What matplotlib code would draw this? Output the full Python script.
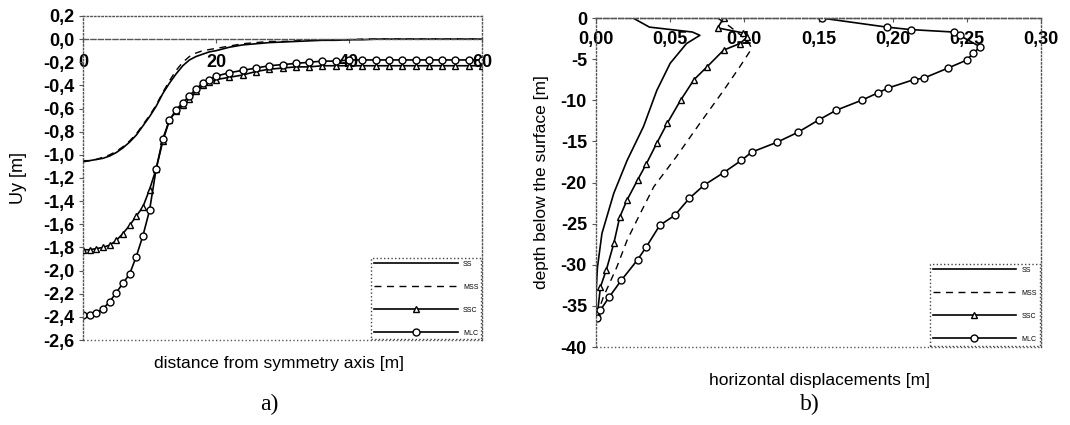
import numpy as np
import matplotlib.pyplot as plt
from matplotlib.ticker import FuncFormatter, MultipleLocator

plt.rcParams['font.family'] = ['Liberation Sans', 'DejaVu Sans']

# ---- panel a) vertical displacement vs distance from axis ----
dist = [0, 1, 2, 3, 4, 5, 6, 7, 8, 9, 10, 11, 12, 13, 14, 15, 16, 17, 18, 19, 20,
        22, 24, 26, 28, 30, 32, 34, 36, 38, 40, 42, 44, 46, 48, 50, 52, 54, 56, 58, 60]
uy_ss = [-1.06, -1.05, -1.04, -1.03, -1.01, -0.98, -0.94, -0.89, -0.83, -0.75, -0.67,
         -0.58, -0.47, -0.38, -0.30, -0.23, -0.18, -0.15, -0.13, -0.11, -0.10,
         -0.07, -0.05, -0.04, -0.03, -0.025, -0.02, -0.015, -0.01, -0.01, -0.005,
         -0.005, 0, 0, 0, 0, 0, 0, 0, 0, 0]
uy_mss = [-1.05, -1.05, -1.04, -1.02, -1.00, -0.97, -0.93, -0.88, -0.82, -0.74, -0.66,
          -0.57, -0.46, -0.36, -0.27, -0.20, -0.15, -0.12, -0.10, -0.09, -0.08,
          -0.06, -0.04, -0.03, -0.02, -0.02, -0.015, -0.01, -0.01, -0.005, -0.005,
          0, 0, 0, 0, 0, 0, 0, 0, 0, 0]
uy_ssc = [-1.82, -1.82, -1.81, -1.80, -1.78, -1.74, -1.68, -1.61, -1.53, -1.45, -1.30,
          -1.12, -0.88, -0.70, -0.62, -0.57, -0.52, -0.45, -0.40, -0.37, -0.35,
          -0.33, -0.31, -0.28, -0.26, -0.25, -0.24, -0.24, -0.23, -0.23, -0.23,
          -0.23, -0.23, -0.23, -0.23, -0.23, -0.23, -0.23, -0.23, -0.23, -0.23]
uy_mlc = [-2.38, -2.38, -2.37, -2.33, -2.27, -2.19, -2.11, -2.03, -1.88, -1.70, -1.48,
          -1.12, -0.86, -0.70, -0.61, -0.55, -0.49, -0.43, -0.38, -0.35, -0.32,
          -0.29, -0.27, -0.25, -0.23, -0.22, -0.21, -0.20, -0.19, -0.19, -0.18,
          -0.18, -0.18, -0.18, -0.18, -0.18, -0.18, -0.18, -0.18, -0.18, -0.18]

# ---- panel b) horizontal displacement vs depth ----
hx_ss = [0.025, 0.036, 0.065, 0.070, 0.061, 0.050, 0.041, 0.032, 0.021, 0.012, 0.004, 0.001, 0.0, 0.0]
d_ss = [0, -1.1, -1.7, -2.1, -3.1, -5.5, -8.8, -13.2, -17.3, -21.3, -26.2, -30.3, -33.5, -36.5]
hx_mss = [0.082, 0.090, 0.102, 0.105, 0.097, 0.086, 0.070, 0.054, 0.039, 0.030, 0.021, 0.014, 0.005, 0.0]
d_mss = [0, -1.0, -2.7, -3.7, -5.9, -8.8, -12.8, -16.9, -20.5, -23.7, -27.0, -30.3, -33.9, -36.5]
hx_ssc = [0.086, 0.082, 0.099, 0.102, 0.097, 0.086, 0.075, 0.066, 0.057, 0.048, 0.041,
          0.034, 0.028, 0.021, 0.016, 0.012, 0.007, 0.003, 0.001]
d_ssc = [0, -1.2, -1.8, -2.3, -3.1, -3.9, -5.9, -7.5, -10.0, -12.8, -15.2,
         -17.7, -19.7, -22.1, -24.2, -27.4, -30.6, -32.7, -35.9]
hx_mlc = [0.152, 0.196, 0.212, 0.241, 0.245, 0.259, 0.254, 0.250, 0.237, 0.221, 0.214,
          0.197, 0.190, 0.179, 0.162, 0.150, 0.136, 0.122, 0.105, 0.098, 0.086, 0.073,
          0.063, 0.053, 0.043, 0.034, 0.028, 0.017, 0.009, 0.003, 0.001]
d_mlc = [0, -1.1, -1.4, -1.7, -2.1, -3.5, -4.3, -5.1, -6.1, -7.3, -7.5,
         -8.5, -9.1, -10.0, -11.2, -12.4, -13.9, -15.1, -16.3, -17.3, -18.8, -20.3,
         -21.9, -24.0, -25.2, -27.8, -29.4, -31.9, -33.9, -35.5, -36.5]

labels = ['SS', 'MSS', 'SSC', 'MLC']


def comma(fmt):
    return FuncFormatter(lambda v, p: (fmt % v).replace('.', ',').replace('-0,00', '0,00'))


def frame(ax):
    for s in ['left', 'right', 'top', 'bottom']:
        ax.spines[s].set_linestyle(':')
        ax.spines[s].set_color('#555555')
        ax.spines[s].set_linewidth(1.0)
    ax.tick_params(labelsize=13, length=3, width=0.8, color='#555555')
    for t in ax.get_xticklabels() + ax.get_yticklabels():
        t.set_fontweight('bold')


fig = plt.figure(figsize=(10.7, 4.25), dpi=100)

# panel a
ax1 = fig.add_axes([0.0776, 0.2, 0.3729, 0.7624])
ax1.plot(dist, uy_ss, color='black', lw=1.2, label=labels[0])
ax1.plot(dist, uy_mss, color='black', lw=1.0, ls=(0, (5, 4)), label=labels[1])
ax1.plot(dist, uy_ssc, color='black', lw=1.2, marker='^', ms=5, mfc='white', mec='black', label=labels[2])
ax1.plot(dist, uy_mlc, color='black', lw=1.2, marker='o', ms=5, mfc='white', mec='black', label=labels[3])
ax1.set_xlim(0, 60)
ax1.set_ylim(-2.6, 0.2)
ax1.spines['bottom'].set_position(('data', 0))
ax1.axhline(-2.6, color='#555555', ls=':', lw=1.0, clip_on=False)
ax1.xaxis.set_major_locator(MultipleLocator(20))
ax1.yaxis.set_major_locator(MultipleLocator(0.2))
ax1.xaxis.set_major_formatter(FuncFormatter(lambda v, p: '%d' % v))
ax1.yaxis.set_major_formatter(comma('%.1f'))
ax1.tick_params(axis='x', length=0, pad=8)
frame(ax1)
ax1.spines['bottom'].set_linestyle('--')
ax1.set_ylabel('Uy [m]', fontsize=13)
ax1.yaxis.set_label_coords(-0.14, 0.5)
ax1.set_xlabel('distance from symmetry axis [m]', fontsize=12.5)
ax1.xaxis.set_label_coords(0.49, -0.05)
leg1 = ax1.legend(loc='lower right', fontsize=5, handlelength=12, labelspacing=2.3,
                  numpoints=1, borderaxespad=0.1, fancybox=False, framealpha=1)
leg1.get_frame().set_linestyle(':')
leg1.get_frame().set_edgecolor('#444444')

# panel b
ax2 = fig.add_axes([0.557, 0.1835, 0.416, 0.774])
ax2.plot(hx_ss, d_ss, color='black', lw=1.2, label=labels[0])
ax2.plot(hx_mss, d_mss, color='black', lw=1.0, ls=(0, (5, 4)), label=labels[1])
ax2.plot(hx_ssc, d_ssc, color='black', lw=1.2, marker='^', ms=5, mfc='white', mec='black', label=labels[2])
ax2.plot(hx_mlc, d_mlc, color='black', lw=1.2, marker='o', ms=5, mfc='white', mec='black', label=labels[3])
ax2.set_xlim(0, 0.30)
ax2.set_ylim(-40, 0)
ax2.spines['bottom'].set_position(('data', 0))
ax2.axhline(-40, color='#555555', ls=':', lw=1.0, clip_on=False)
ax2.xaxis.set_major_locator(MultipleLocator(0.05))
ax2.yaxis.set_major_locator(MultipleLocator(5))
ax2.xaxis.set_major_formatter(comma('%.2f'))
ax2.yaxis.set_major_formatter(FuncFormatter(lambda v, p: '%d' % v))
ax2.tick_params(axis='x', length=0, pad=6)
frame(ax2)
ax2.spines['bottom'].set_linestyle('--')
ax2.set_ylabel('depth below the surface [m]', fontsize=12.5)
ax2.yaxis.set_label_coords(-0.105, 0.5)
ax2.set_xlabel('horizontal displacements [m]', fontsize=12.5)
ax2.xaxis.set_label_coords(0.503, -0.08)
leg2 = ax2.legend(loc='lower right', fontsize=5, handlelength=12, labelspacing=2.3,
                  numpoints=1, borderaxespad=0.2, fancybox=False, framealpha=1)
leg2.get_frame().set_linestyle(':')
leg2.get_frame().set_edgecolor('#444444')

fig.text(0.252, 0.035, 'a)', fontsize=17, family='Liberation Serif', ha='center')
fig.text(0.757, 0.035, 'b)', fontsize=17, family='Liberation Serif', ha='center')

fig.savefig('out.png', dpi=100)
